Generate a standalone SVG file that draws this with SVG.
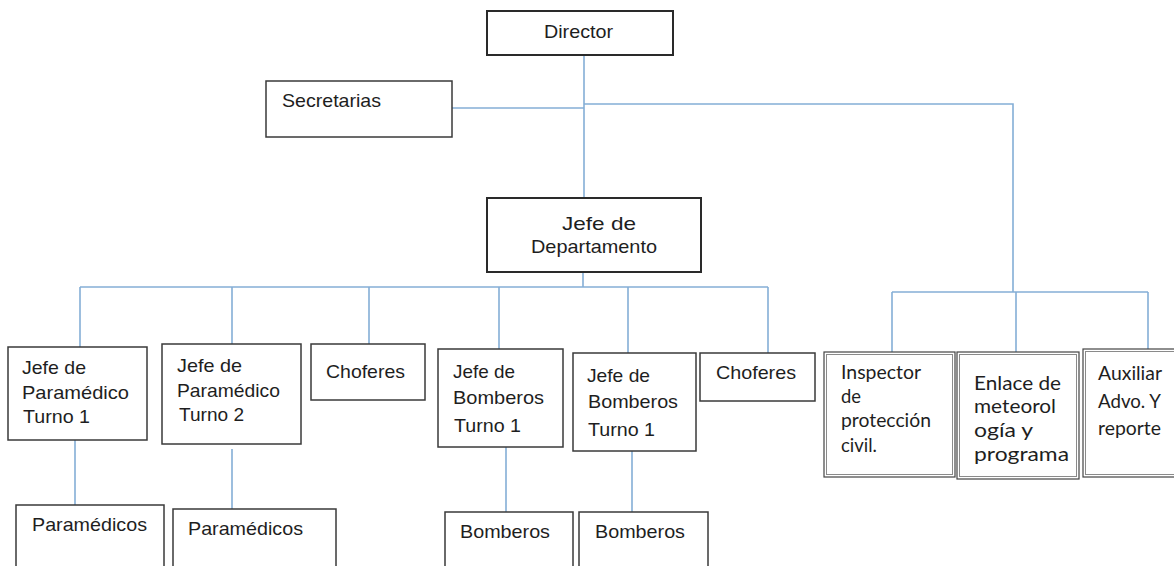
<svg xmlns="http://www.w3.org/2000/svg" width="1174" height="566" viewBox="0 0 1174 566">
<style>
.bg{fill:#ffffff}
.box{fill:#ffffff;stroke:#3a3a3a;stroke-width:1.5}
.boxb{fill:#ffffff;stroke:#2a2a2a;stroke-width:2}
.dbl{fill:#ffffff;stroke:#444444;stroke-width:1.2}
.dbli{fill:none;stroke:#8a8a8a;stroke-width:1}
.t{font-family:"Liberation Sans",Arial,sans-serif;font-size:18.5px;fill:#1e1e1e}
.c{font-family:Lato,"Open Sans",sans-serif;font-size:20px;fill:#1e1e1e}
.ln{stroke:#84aed6;stroke-width:1.6;fill:none}
</style>
<rect class="bg" x="0" y="0" width="1174" height="566"/>
<g id="connectors">
<line class="ln" x1="584" y1="55" x2="584" y2="198"/>
<line class="ln" x1="452" y1="108" x2="584" y2="108"/>
<polyline class="ln" points="584,104 1013,104 1013,292"/>
<line class="ln" x1="583" y1="272" x2="583" y2="287"/>
<line class="ln" x1="80" y1="287" x2="768" y2="287"/>
<line class="ln" x1="80" y1="287" x2="80" y2="347"/>
<line class="ln" x1="232" y1="287" x2="232" y2="344"/>
<line class="ln" x1="369" y1="287" x2="369" y2="344"/>
<line class="ln" x1="499" y1="287" x2="499" y2="349"/>
<line class="ln" x1="628" y1="287" x2="628" y2="353"/>
<line class="ln" x1="768" y1="287" x2="768" y2="353"/>
<line class="ln" x1="892" y1="292" x2="1148" y2="292"/>
<line class="ln" x1="892" y1="292" x2="892" y2="352"/>
<line class="ln" x1="1016" y1="292" x2="1016" y2="352"/>
<line class="ln" x1="1148" y1="292" x2="1148" y2="349"/>
<line class="ln" x1="75" y1="440" x2="75" y2="505"/>
<line class="ln" x1="232" y1="449" x2="232" y2="509"/>
<line class="ln" x1="506" y1="447" x2="506" y2="512"/>
<line class="ln" x1="632" y1="451" x2="632" y2="512"/>
</g>
<g id="director">
<rect class="boxb" x="487" y="11" width="186" height="44"/>
<text class="t" x="544" y="38" textLength="69" lengthAdjust="spacingAndGlyphs">Director</text>
</g>
<g id="secretarias">
<rect class="box" x="266" y="81" width="186" height="56"/>
<text class="t" x="282" y="107" textLength="99" lengthAdjust="spacingAndGlyphs">Secretarias</text>
</g>
<g id="jefe-departamento">
<rect class="boxb" x="487" y="198" width="214" height="74"/>
<text class="t" x="562" y="230" textLength="74" lengthAdjust="spacingAndGlyphs">Jefe de</text>
<text class="t" x="531" y="253" textLength="126" lengthAdjust="spacingAndGlyphs">Departamento</text>
</g>
<g id="jefe-paramedico-1">
<rect class="box" x="8" y="347" width="139" height="93"/>
<text class="t" x="22" y="374" textLength="64" lengthAdjust="spacingAndGlyphs">Jefe de</text>
<text class="t" x="22" y="399" textLength="107" lengthAdjust="spacingAndGlyphs">Paramédico</text>
<text class="t" x="23" y="423" textLength="67" lengthAdjust="spacingAndGlyphs">Turno 1</text>
</g>
<g id="jefe-paramedico-2">
<rect class="box" x="162" y="344" width="139" height="100"/>
<text class="t" x="177" y="372" textLength="65" lengthAdjust="spacingAndGlyphs">Jefe de</text>
<text class="t" x="177" y="397" textLength="103" lengthAdjust="spacingAndGlyphs">Paramédico</text>
<text class="t" x="179" y="421" textLength="65" lengthAdjust="spacingAndGlyphs">Turno 2</text>
</g>
<g id="choferes-1">
<rect class="box" x="311" y="344" width="114" height="56"/>
<text class="t" x="326" y="378" textLength="79" lengthAdjust="spacingAndGlyphs">Choferes</text>
</g>
<g id="jefe-bomberos-1">
<rect class="box" x="438" y="349" width="125" height="98"/>
<text class="t" x="453" y="378" textLength="62" lengthAdjust="spacingAndGlyphs">Jefe de</text>
<text class="t" x="453" y="404" textLength="91" lengthAdjust="spacingAndGlyphs">Bomberos</text>
<text class="t" x="454" y="432" textLength="67" lengthAdjust="spacingAndGlyphs">Turno 1</text>
</g>
<g id="jefe-bomberos-2">
<rect class="box" x="573" y="353" width="123" height="98"/>
<text class="t" x="587" y="382" textLength="63" lengthAdjust="spacingAndGlyphs">Jefe de</text>
<text class="t" x="588" y="408" textLength="90" lengthAdjust="spacingAndGlyphs">Bomberos</text>
<text class="t" x="588" y="436" textLength="67" lengthAdjust="spacingAndGlyphs">Turno 1</text>
</g>
<g id="choferes-2">
<rect class="box" x="700" y="353" width="115" height="48"/>
<text class="t" x="716" y="379" textLength="80" lengthAdjust="spacingAndGlyphs">Choferes</text>
</g>
<g id="inspector">
<rect class="dbl" x="824" y="352" width="131" height="125"/>
<rect class="dbli" x="826.5" y="354.5" width="126" height="120"/>
<text class="c" x="841" y="379" textLength="80" lengthAdjust="spacingAndGlyphs">Inspector</text>
<text class="c" x="841" y="403" textLength="20" lengthAdjust="spacingAndGlyphs">de</text>
<text class="c" x="841" y="427" textLength="90" lengthAdjust="spacingAndGlyphs">protección</text>
<text class="c" x="841" y="452" textLength="36" lengthAdjust="spacingAndGlyphs">civil.</text>
</g>
<g id="enlace">
<rect class="dbl" x="957" y="352" width="122" height="127"/>
<rect class="dbli" x="959.5" y="354.5" width="117" height="122"/>
<text class="c" x="974" y="390" textLength="87" lengthAdjust="spacingAndGlyphs">Enlace de</text>
<text class="c" x="974" y="413" textLength="82" lengthAdjust="spacingAndGlyphs">meteorol</text>
<text class="c" x="974" y="437" textLength="59" lengthAdjust="spacingAndGlyphs">ogía y</text>
<text class="c" x="974" y="461" textLength="95" lengthAdjust="spacingAndGlyphs">programa</text>
</g>
<g id="auxiliar">
<rect class="dbl" x="1083" y="349" width="100" height="128"/>
<rect class="dbli" x="1085.5" y="351.5" width="95" height="123"/>
<text class="c" x="1098" y="380" textLength="64" lengthAdjust="spacingAndGlyphs">Auxiliar</text>
<text class="c" x="1098" y="408" textLength="63" lengthAdjust="spacingAndGlyphs">Advo. Y</text>
<text class="c" x="1098" y="435" textLength="63" lengthAdjust="spacingAndGlyphs">reporte</text>
</g>
<g id="paramedicos-1">
<rect class="box" x="16" y="505" width="148" height="70"/>
<text class="t" x="32" y="531" textLength="115" lengthAdjust="spacingAndGlyphs">Paramédicos</text>
</g>
<g id="paramedicos-2">
<rect class="box" x="173" y="509" width="163" height="66"/>
<text class="t" x="188" y="535" textLength="115" lengthAdjust="spacingAndGlyphs">Paramédicos</text>
</g>
<g id="bomberos-1">
<rect class="box" x="445" y="512" width="128" height="63"/>
<text class="t" x="460" y="538" textLength="90" lengthAdjust="spacingAndGlyphs">Bomberos</text>
</g>
<g id="bomberos-2">
<rect class="box" x="579" y="512" width="129" height="63"/>
<text class="t" x="595" y="538" textLength="90" lengthAdjust="spacingAndGlyphs">Bomberos</text>
</g>
</svg>
